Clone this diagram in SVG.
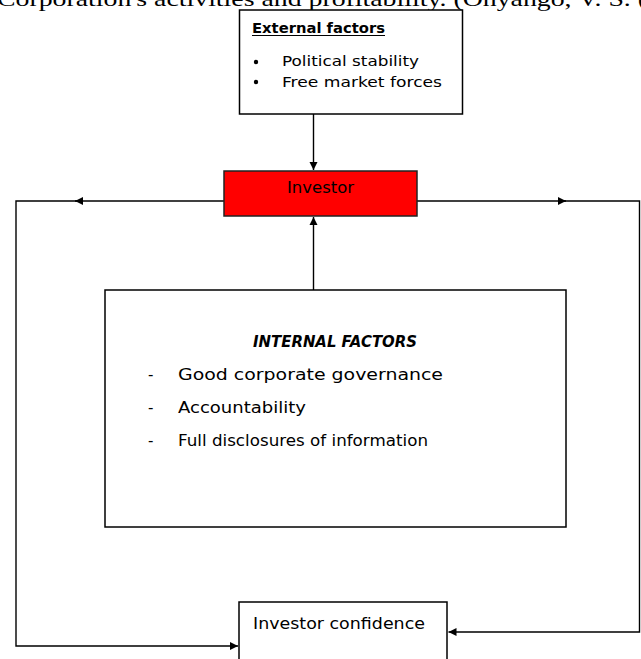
<svg xmlns="http://www.w3.org/2000/svg" width="641" height="659" viewBox="0 0 641 659">
<style>
.box{fill:#fff;stroke:#000;stroke-width:1.5}
.ln{fill:none;stroke:#000;stroke-width:1.4}
.g{font-family:"DejaVu Sans","Liberation Sans",sans-serif;fill:#000}
.serif{font-family:"Liberation Serif","Times New Roman",serif;fill:#000}
</style>
<defs>
<marker id="ah" markerWidth="10" markerHeight="10" refX="8" refY="4.5" orient="auto" markerUnits="userSpaceOnUse"><path d="M0,0.5 L8,4.5 L0,8.5 z" fill="#000"/></marker>
</defs>
<rect width="641" height="659" fill="#fff"/>
<text class="serif" x="-3" y="6" font-size="21" textLength="650" lengthAdjust="spacingAndGlyphs">Corporation's activities and profitability. (Onyango, V. S. (</text>

<g id="connectors">
<path class="ln" d="M313.5,114 V170" marker-end="url(#ah)"/>
<path class="ln" d="M313.5,290 V217" marker-end="url(#ah)"/>
<path class="ln" d="M224,201 H75" marker-end="url(#ah)"/>
<path class="ln" d="M80,201 H16 V646 H238" marker-end="url(#ah)"/>
<path class="ln" d="M417,201 H566" marker-end="url(#ah)"/>
<path class="ln" d="M560,201 H639.5 V632 H448.5" marker-end="url(#ah)"/>
</g>

<g id="external">
<rect class="box" x="239.5" y="10" width="223" height="104" stroke-width="2"/>
<text class="g" x="252" y="33" font-size="14" font-weight="bold" textLength="133" lengthAdjust="spacingAndGlyphs">External factors</text>
<line x1="252" y1="35.5" x2="385" y2="35.5" stroke="#000" stroke-width="1.2"/>
<circle cx="256" cy="62" r="2.2" fill="#000"/>
<text class="g" x="282" y="66" font-size="13.5" textLength="137" lengthAdjust="spacingAndGlyphs">Political stability</text>
<circle cx="256" cy="82" r="2.2" fill="#000"/>
<text class="g" x="282" y="87" font-size="13.5" textLength="160" lengthAdjust="spacingAndGlyphs">Free market forces</text>
</g>

<g id="investor">
<rect x="224" y="171" width="193" height="45" fill="#ff0000" stroke="#222" stroke-width="1.5"/>
<text class="g" x="287" y="193" font-size="15" textLength="67" lengthAdjust="spacingAndGlyphs">Investor</text>
</g>

<g id="internal">
<rect class="box" x="105" y="290" width="461" height="237"/>
<text class="g" x="253" y="347" font-size="15" font-weight="bold" font-style="italic" textLength="164" lengthAdjust="spacingAndGlyphs">INTERNAL FACTORS</text>
<text class="g" x="148" y="380" font-size="15">-</text>
<text class="g" x="178" y="380" font-size="15" textLength="265" lengthAdjust="spacingAndGlyphs">Good  corporate governance</text>
<text class="g" x="148" y="413" font-size="15">-</text>
<text class="g" x="178" y="413" font-size="15" textLength="128" lengthAdjust="spacingAndGlyphs">Accountability</text>
<text class="g" x="148" y="446" font-size="15">-</text>
<text class="g" x="178" y="446" font-size="15" textLength="250" lengthAdjust="spacingAndGlyphs">Full disclosures of information</text>
</g>

<g id="confidence">
<rect class="box" x="239" y="602" width="208" height="70"/>
<text class="g" x="253" y="629" font-size="15" textLength="172" lengthAdjust="spacingAndGlyphs">Investor confidence</text>
</g>
</svg>
